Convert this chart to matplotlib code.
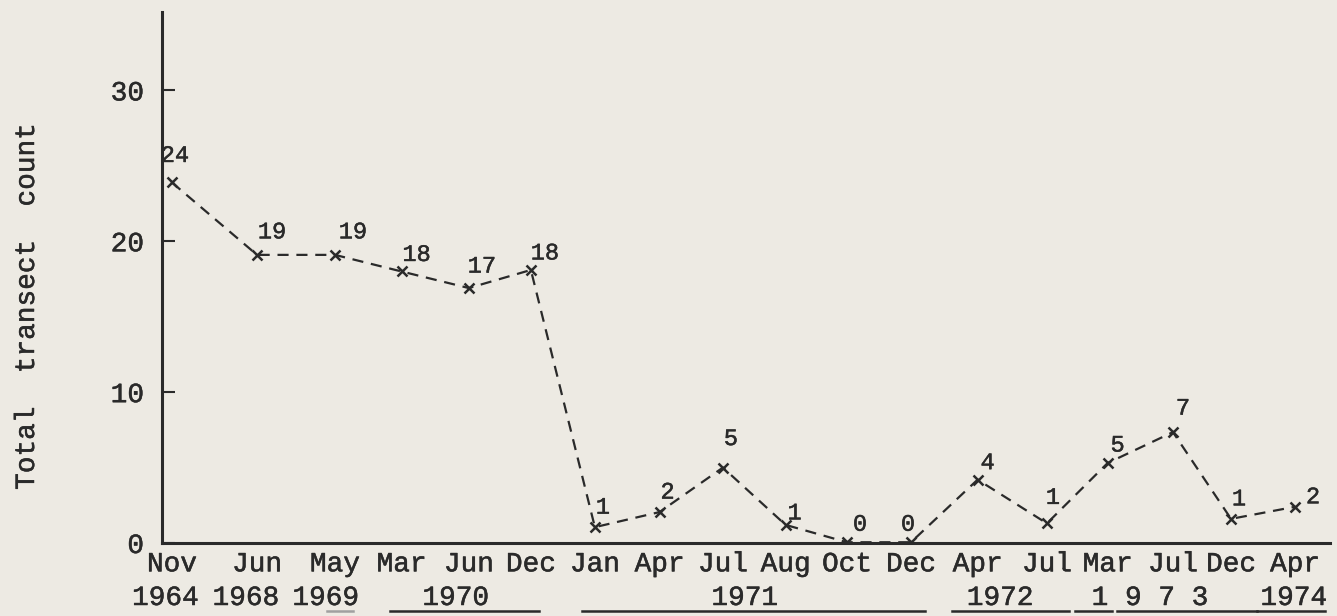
import numpy as np
import matplotlib.pyplot as plt
import matplotlib.patheffects as pe
from matplotlib.transforms import blended_transform_factory

# data
months = ['Nov', 'Jun', 'May', 'Mar', 'Jun', 'Dec', 'Jan', 'Apr', 'Jul',
          'Aug', 'Oct', 'Dec', 'Apr', 'Jul', 'Mar', 'Jul', 'Dec', 'Apr']
counts = [24, 19, 19, 18, 17, 18, 1, 2, 5, 1, 0, 0, 4, 1, 5, 7, 1, 2]
# plotted y (hand drawn, slightly off the printed count in places)
y_drawn = [23.9, 19.1, 19.1, 18.0, 16.9, 18.1, 1.05, 2.05, 5.0, 1.2, 0.05, 0.05,
           4.2, 1.3, 5.3, 7.35, 1.6, 2.4]
# hand-drawn spacing of the survey dates along x
x_pos = [0, 1.29, 2.47, 3.48, 4.5, 5.44, 6.41, 7.39, 8.35, 9.3, 10.23, 11.2,
         12.21, 13.26, 14.18, 15.17, 16.05, 17.02]
years = ['1964', '1968', '1969', '1970', '1971', '1972', '1 9 7 3', '1974']
year_x = [-0.1, 1.12, 2.33, 4.3, 8.68, 12.55, 14.82, 17.0]
# underline spans under the year labels
under_x0 = [2.35, 3.3, 6.21, 11.82, 13.68, 14.32, 16.45]
under_x1 = [2.74, 5.56, 11.41, 13.6, 14.24, 16.44, 17.48]
# label offsets (pixels) from each point
lab_dx = [3, 15, 18, 15, 13, 14, 8, 8, 8, 9, 13, -3, 10, 6, 10, 10, 8, 18]
lab_dy = [27, 23, 23, 17, 22, 17, 20, 20, 29, 12, 18, 18, 17, 26, 18, 24, 20, 10]

bg = '#edeae3'
ink = '#2a2a2a'
fnt = 'Liberation Mono'
bold = [pe.withStroke(linewidth=0.35, foreground=ink)]

fig = plt.figure(figsize=(13.37, 6.16), dpi=100, facecolor=bg)
ax = fig.add_axes([162/1337, 73/616, (1330-162)/1337, (543-12)/616])
ax.set_facecolor(bg)

ax.plot(x_pos, y_drawn, ls=(0, (5, 3.5)), lw=1.6, color=ink,
        marker='x', ms=7.5, mew=1.8)

for i in range(len(counts)):
    ax.annotate(str(counts[i]), (x_pos[i], y_drawn[i]),
                xytext=(lab_dx[i], lab_dy[i]), textcoords='offset pixels',
                ha='center', va='center', fontsize=17, family=fnt, color=ink,
                path_effects=bold)

ax.set_xlim(-0.15, 17.55)
ax.set_ylim(0, 35.2)
ax.set_yticks([0, 10, 20, 30])
ax.set_xticks(x_pos)
ax.set_xticklabels(months)
for lab in ax.get_xticklabels() + ax.get_yticklabels():
    lab.set_family(fnt)
    lab.set_fontsize(20)
    lab.set_color(ink)
    lab.set_path_effects(bold)
ax.tick_params(axis='x', length=0, pad=6)
ax.tick_params(axis='y', direction='in', length=9, width=1.5, pad=13, colors=ink)

for s in ['top', 'right']:
    ax.spines[s].set_visible(False)
for s in ['left', 'bottom']:
    ax.spines[s].set_linewidth(2.2)
    ax.spines[s].set_color(ink)

tr = blended_transform_factory(ax.transData, fig.transFigure)
for i in range(len(years)):
    ax.text(year_x[i], 18/616, years[i], transform=tr, ha='center', va='center',
            fontsize=20, family=fnt, color=ink, clip_on=False, path_effects=bold)
for i in range(len(under_x0)):
    c = '#a0a0a0' if i == 0 else ink
    ax.plot([under_x0[i], under_x1[i]], [5/616, 5/616], transform=tr,
            color=c, lw=1.8, clip_on=False)

fig.text(27/1337, 1-307/616, 'Total  transect  count', rotation=90,
         ha='center', va='center', fontsize=20, family=fnt, color=ink,
         path_effects=bold)

plt.savefig('out.png', dpi=100, facecolor=bg)
